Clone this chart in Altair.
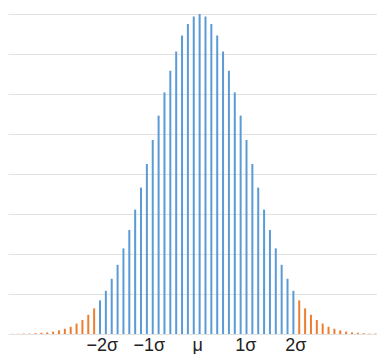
import altair as alt
import pandas as pd

# bar index (steps of the distribution, 0 = mean)
positions = list(range(-32, 31))
# bar heights in grid units (8 grid steps to the peak)
heights = [0.003, 0.005, 0.01, 0.01, 0.02, 0.03, 0.04, 0.06, 0.09, 0.13, 0.18, 0.26,
           0.35, 0.48, 0.64, 0.84, 1.08, 1.38, 1.73, 2.14, 2.60, 3.11, 3.66, 4.25,
           4.85, 5.46, 6.04, 6.58, 7.06, 7.46, 7.75, 7.94, 8.00, 7.94, 7.75, 7.46,
           7.06, 6.58, 6.04, 5.46, 4.85, 4.25, 3.66, 3.11, 2.60, 2.14, 1.73, 1.38,
           1.08, 0.84, 0.64, 0.48, 0.35, 0.26, 0.18, 0.13, 0.09, 0.06, 0.04, 0.03,
           0.02, 0.01, 0.01]
groups = ["tail"] * 15 + ["core"] * 34 + ["tail"] * 14

tick_positions = [-16.6, -8.6, -0.35, 7.9, 16.4]
tick_labels = ["\u22122\u03c3", "\u22121\u03c3", "\u03bc", "1\u03c3", "2\u03c3"]

df = pd.DataFrame({"pos": positions, "h": heights, "group": groups})
lab = pd.DataFrame({"pos": tick_positions, "label": tick_labels})

W, H = 369, 320
xscale = alt.Scale(domain=[-32.7, 30.27], nice=False, zero=False)

bars = alt.Chart(df).mark_rule(strokeWidth=2).encode(
    x=alt.X("pos:Q", scale=xscale, axis=None),
    y=alt.Y("h:Q", scale=alt.Scale(domain=[0, 8], nice=False),
            axis=alt.Axis(values=[0, 1, 2, 3, 4, 5, 6, 7, 8], labels=False, ticks=False,
                          domain=False, title=None, grid=True, gridColor="#e2e2e2",
                          gridWidth=1)),
    y2=alt.value(H),
    color=alt.Color("group:N", scale=alt.Scale(domain=["core", "tail"],
                                               range=["#5b9bd5", "#ed7d31"]),
                    legend=None),
)

labels = alt.Chart(lab).mark_text(fontSize=18, font="Liberation Sans", color="#222222",
                                  baseline="alphabetic").encode(
    x=alt.X("pos:Q", scale=xscale),
    y=alt.value(H + 17),
    text="label:N",
)

chart = alt.layer(bars, labels).properties(
    width=W, height=H,
    padding={"left": 0, "top": 5, "right": 0, "bottom": 0},
).configure_view(stroke=None)

chart.save("out.html", embed_options={"renderer": "svg", "actions": False})
